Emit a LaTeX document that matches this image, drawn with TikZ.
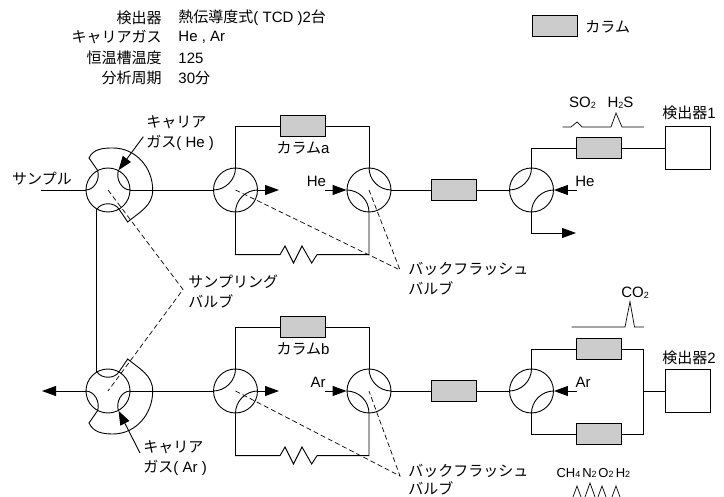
\documentclass[tikz,border=0pt]{standalone}
\usepackage{fontspec}
\setmainfont{Liberation Sans}
\newfontfamily\jp{Noto Sans CJK JP}
\usetikzlibrary{arrows.meta}

\begin{document}
\begin{tikzpicture}[
  x=1pt, y=-1pt,
  font=\fontsize{15}{19.5}\selectfont,
  line width=0.9pt,
  valve/.style={draw, circle, minimum size=44pt, inner sep=0pt},
  column/.style={draw, fill=black!20, minimum width=45pt, minimum height=21.5pt, inner sep=0pt},
  detector/.style={draw, minimum width=45pt, minimum height=42.5pt, inner sep=0pt},
  arr/.style={-{Triangle[length=14pt,width=10pt]}},
  guide/.style={dash pattern=on 5pt off 3pt, line width=0.7pt},
  trace/.style={line width=0.7pt},
  lbl/.style={inner sep=0pt, align=left},
  peaklbl/.style={lbl, font=\fontsize{13}{15}\selectfont}
]
\useasboundingbox (0,0) rectangle (724,497);

% Conditions at the top.
\node[lbl, anchor=east] (cond1) at (162,18) {\jp 検出器};
\node[lbl, anchor=east] (cond2) at (162,37) {\jp キャリアガス};
\node[lbl, anchor=east] (cond3) at (162,58) {\jp 恒温槽温度};
\node[lbl, anchor=east] (cond4) at (162,78) {\jp 分析周期};
\node[lbl, anchor=west] (val1) at (178,18) {{\jp 熱伝導度式}( TCD )2{\jp 台}};
\node[lbl, anchor=west] (val2) at (178,37) {He , Ar};
\node[lbl, anchor=west] (val3) at (178,58) {125};
\node[lbl, anchor=west] (val4) at (178,78) {30{\jp 分}};
\node[column] (legend) at (554.5,26) {};
\node[lbl, anchor=west] (legendtxt) at (585,27) {\jp カラム};

% Upper line.
\node[valve] (samplea) at (108,190) {};
\node[valve] (switcha) at (235.5,190) {};
\node[valve] (flusha) at (369,190) {};
\node[valve] (outa) at (531.5,190) {};
\node[column] (cola) at (302.5,126) {};
\node[column] (midcola) at (453.5,190) {};
\node[column] (endcola) at (598.5,148) {};
\node[detector] (deta) at (687.5,148) {};
\coordinate (samplein) at (41,190);
\coordinate (ventb) at (279,190);
\coordinate (vent) at (576,233);
\coordinate (hea) at (325,190);
\coordinate (heb) at (577,190);

\draw (samplein) -- (samplea.west);
\draw (samplea.east) -- (switcha.west);
\draw[arr] (switcha.east) -- (ventb);
\draw (switcha.north) |- (cola.west);
\draw (cola.east) -| (flusha.north);
\draw (switcha.south) |- (280,254.7) -- (285,246) -- (293.5,263) -- (302,246)
  -- (311.7,263) -- (317,254.7) -| (flusha.south);
\draw[arr] (hea) -- (flusha.west);
\draw (flusha.east) -- (midcola.west);
\draw (midcola.east) -- (outa.west);
\draw (outa.north) |- (endcola.west);
\draw (endcola.east) -- (deta.west);
\draw[arr] (heb) -- (outa.east);
\draw[arr] (outa.south) |- (vent);

% Lower line.
\node[valve] (sampleb) at (108,391) {};
\node[valve] (switchb) at (235.5,391) {};
\node[valve] (flushb) at (369,391) {};
\node[valve] (outb) at (531.5,391) {};
\node[column] (colb) at (302.5,327) {};
\node[column] (midcolb) at (453.5,391) {};
\node[column] (upcolb) at (598.5,349) {};
\node[column] (lowcolb) at (598.5,434) {};
\node[detector] (detb) at (687.5,391) {};
\coordinate (wasteb) at (42,391);
\coordinate (ventc) at (279,391);
\coordinate (ara) at (325,391);
\coordinate (arb) at (577,391);
\coordinate (joinb) at (643,391);

\draw[arr] (sampleb.west) -- (wasteb);
\draw (sampleb.east) -- (switchb.west);
\draw[arr] (switchb.east) -- (ventc);
\draw (switchb.north) |- (colb.west);
\draw (colb.east) -| (flushb.north);
\draw (switchb.south) |- (280,455.7) -- (285,447) -- (293.5,464) -- (302,447)
  -- (311.7,464) -- (317,455.7) -| (flushb.south);
\draw[arr] (ara) -- (flushb.west);
\draw (flushb.east) -- (midcolb.west);
\draw (midcolb.east) -- (outb.west);
\draw (outb.north) |- (upcolb.west);
\draw (outb.south) |- (lowcolb.west);
\draw (upcolb.east) -| (joinb);
\draw (lowcolb.east) -| (joinb);
\draw (joinb) -- (detb.west);
\draw[arr] (arb) -- (outb.east);

% Passages inside the switching valves.
\foreach \v in {switcha,outa,switchb,outb} {
  \draw (\v.west) to[out=0,in=-90] (\v.north);
  \draw (\v.east) to[out=180,in=90] (\v.south);
}
\foreach \v in {flusha,flushb} {
  \draw (\v.north) to[out=-90,in=180] (\v.east);
  \draw (\v.west) to[out=0,in=90] (\v.south);
}

% Sampling valves with their loops.
\draw (samplea.180) to[out=0,in=-70] (samplea.118);
\draw (samplea.0) to[out=180,in=-110] (samplea.62);
\draw (samplea.240) to[out=60,in=120] (samplea.300);
\draw (samplea.118) -- (89,158) to[out=65,in=180] (113,148) to[out=0,in=90] (152.7,190)
  to[out=-90,in=40] (127.7,222) -- (samplea.300);
\draw (sampleb.180) to[out=0,in=70] (sampleb.242);
\draw (sampleb.0) to[out=180,in=110] (sampleb.298);
\draw (sampleb.120) to[out=-60,in=-120] (sampleb.60);
\draw (sampleb.60) -- (127.7,359) to[out=-40,in=90] (152.7,391) to[out=-90,in=0] (113,434)
  to[out=180,in=-65] (89,423) -- (sampleb.242);
\draw (samplea.240) -- (sampleb.120);

% Carrier gas inlets.
\coordinate (carriera) at (143.3,136.7);
\coordinate (carrierb) at (140,453);
\draw[arr] (carriera) -- (samplea.62);
\draw[arr] (carrierb) -- (sampleb.298);

% Valve callouts.
\coordinate (samplingtip) at (183,289.5);
\coordinate (flushtipa) at (400,270);
\coordinate (flushtipb) at (400,476);
\draw[guide] (samplea.center) -- (samplingtip) -- (sampleb.center);
\draw[guide] (switcha.center) -- (flushtipa) -- (flusha.center);
\draw[guide] (switchb.center) -- (flushtipb) -- (flushb.center);

% Labels.
\node[lbl] (samplelbl) at (42,179) {\jp サンプル};
\node[lbl, anchor=west] (carrierlbla) at (146,133) {{\jp キャリア}\\{\jp ガス}( He )};
\node[lbl, anchor=west] (carrierlblb) at (143,458) {{\jp キャリア}\\{\jp ガス}( Ar )};
\node[lbl, anchor=west] (samplinglbl) at (188,291.5) {{\jp サンプリング}\\{\jp バルブ}};
\node[lbl, anchor=west] (flushlbla) at (408,278.5) {{\jp バックフラッシュ}\\{\jp バルブ}};
\node[lbl, anchor=west, font=\fontsize{15}{18}\selectfont] (flushlblb) at (408,479.5) {{\jp バックフラッシュ}\\{\jp バルブ}};
\node[lbl] (colalbl) at (303,148) {{\jp カラム}a};
\node[lbl] (colblbl) at (303,349) {{\jp カラム}b};
\node[lbl] (helbla) at (316.5,181) {He};
\node[lbl] (helblb) at (585,181) {He};
\node[lbl] (arlbla) at (318,382) {Ar};
\node[lbl] (arlblb) at (583,382) {Ar};
\node[lbl] (detlbla) at (689,113) {{\jp 検出器}1};
\node[lbl] (detlblb) at (689,358) {{\jp 検出器}2};

% Chromatograms.
\def\lowidx#1{\raisebox{-0.5pt}{\fontsize{9}{10}\selectfont #1}}
\node[lbl] (so2) at (582.5,103) {SO\lowidx{2}};
\node[lbl] (h2s) at (620.5,103) {H\lowidx{2}S};
\node[lbl] (co2) at (635,293) {CO\lowidx{2}};
\node[peaklbl] (ch4) at (568.5,473) {CH\lowidx{4}};
\node[peaklbl] (n2) at (589.5,473) {N\lowidx{2}};
\node[peaklbl] (o2) at (606,473) {O\lowidx{2}};
\node[peaklbl] (h2) at (623,473) {H\lowidx{2}};
\draw[trace] (562.5,127) -- (571,127) -- (577,122) -- (582,127) -- (611,127)
  -- (616,113) -- (622,127) -- (644,127);
\draw[trace] (571.7,327) -- (625,327) -- (630,301.7) -- (634.5,327) -- (644,327);
\draw[trace] (573,497) -- (577,486) -- (581,497);
\draw[trace] (585,497) -- (590,483) -- (595,497);
\draw[trace] (598,497) -- (602,486) -- (606,497);
\draw[trace] (612,497) -- (616,486) -- (620,497);
\end{tikzpicture}
\end{document}
